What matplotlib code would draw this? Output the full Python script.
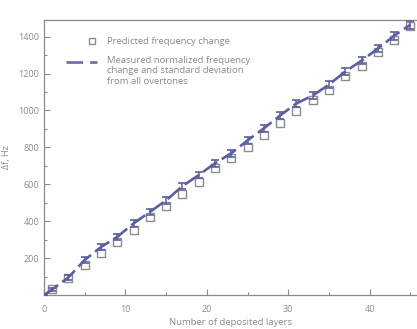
import numpy as np
import matplotlib.pyplot as plt
from matplotlib.lines import Line2D
from matplotlib.ticker import MultipleLocator

# data
layers = [1, 3, 5, 7, 9, 11, 13, 15, 17, 19, 21, 23,
          25, 27, 29, 31, 33, 35, 37, 39, 41, 43, 45]
predicted = [32, 92, 162, 227, 287, 351, 421, 481, 546, 611, 686, 740,
             800, 865, 930, 995, 1054, 1113, 1189, 1243, 1314, 1384, 1459]
meas_layers = [0, 1, 3, 5, 7, 9, 11, 13, 15, 17, 19, 21, 23,
               25, 27, 29, 31, 33, 35, 37, 39, 41, 43, 45]
measured = [0, 30, 95, 190, 260, 315, 388, 450, 513, 590, 650, 714, 768,
            838, 903, 973, 1038, 1081, 1140, 1211, 1270, 1335, 1405, 1465]
meas_std = [0, 8, 12, 15, 16, 16, 18, 18, 18, 18, 18, 18, 18,
            18, 18, 18, 18, 18, 18, 18, 20, 20, 22, 22]
legend_labels = ['Predicted frequency change',
                 'Measured normalized frequency\nchange and standard deviation\nfrom all overtones']

plt.rcParams['font.family'] = ['Open Sans', 'DejaVu Sans']
grey = '#8a8a8a'
blue = '#5b5f9f'
W, H = 417, 329

fig = plt.figure(figsize=(W / 100, H / 100), dpi=100)
ax = fig.add_axes([44 / W, 34 / H, 1 - 44 / W, (295 - 20) / H])

ax.plot(layers, predicted, 's', ms=6, mfc='white', mec='#8c8c8c', mew=1.0, zorder=2)
ax.errorbar(meas_layers, measured, yerr=meas_std, color=blue, lw=1.9,
            dashes=(6.5, 2), elinewidth=1.1, capsize=2.8, capthick=1.2, zorder=3)

ax.set_xlim(0, 45.8)
ax.set_ylim(0, 1490)
ax.xaxis.set_major_locator(MultipleLocator(10))
ax.xaxis.set_minor_locator(MultipleLocator(5))
ax.yaxis.set_minor_locator(MultipleLocator(100))
ax.set_yticks([200, 400, 600, 800, 1000, 1200, 1400])
ax.tick_params(which='both', direction='in', colors=grey, labelsize=6.5,
               labelcolor=grey, width=0.8)
ax.tick_params(which='major', length=4)
ax.tick_params(which='minor', length=2)
ax.tick_params(axis='x', pad=7)
for s in ['left', 'bottom', 'top']:
    ax.spines[s].set_color(grey)
    ax.spines[s].set_linewidth(0.9)
ax.spines['right'].set_visible(False)

ax.set_xlabel('Number of deposited layers', fontsize=6.8, color=grey, labelpad=3)
ax.set_ylabel('Δf, Hz', fontsize=6.5, color=grey, labelpad=5)

# hand-made legend, placed in figure pixels
def fx(x):
    return x / W

def fy(y):
    return 1 - y / H

fig.add_artist(Line2D([fx(92)], [fy(41)], marker='s', ms=5, mfc='white',
                      mec='#8c8c8c', mew=1.0, transform=fig.transFigure))
fig.add_artist(Line2D([fx(66), fx(97)], [fy(62), fy(62)], color='#6e72a8', lw=2.0,
                      dashes=(6, 2.5), transform=fig.transFigure))
fig.text(fx(107), fy(41), legend_labels[0], fontsize=6.8, color=grey, va='center')
fig.text(fx(107), fy(56), legend_labels[1], fontsize=6.8, color=grey, va='top',
         linespacing=1.2)

fig.savefig('out.png', dpi=100)
